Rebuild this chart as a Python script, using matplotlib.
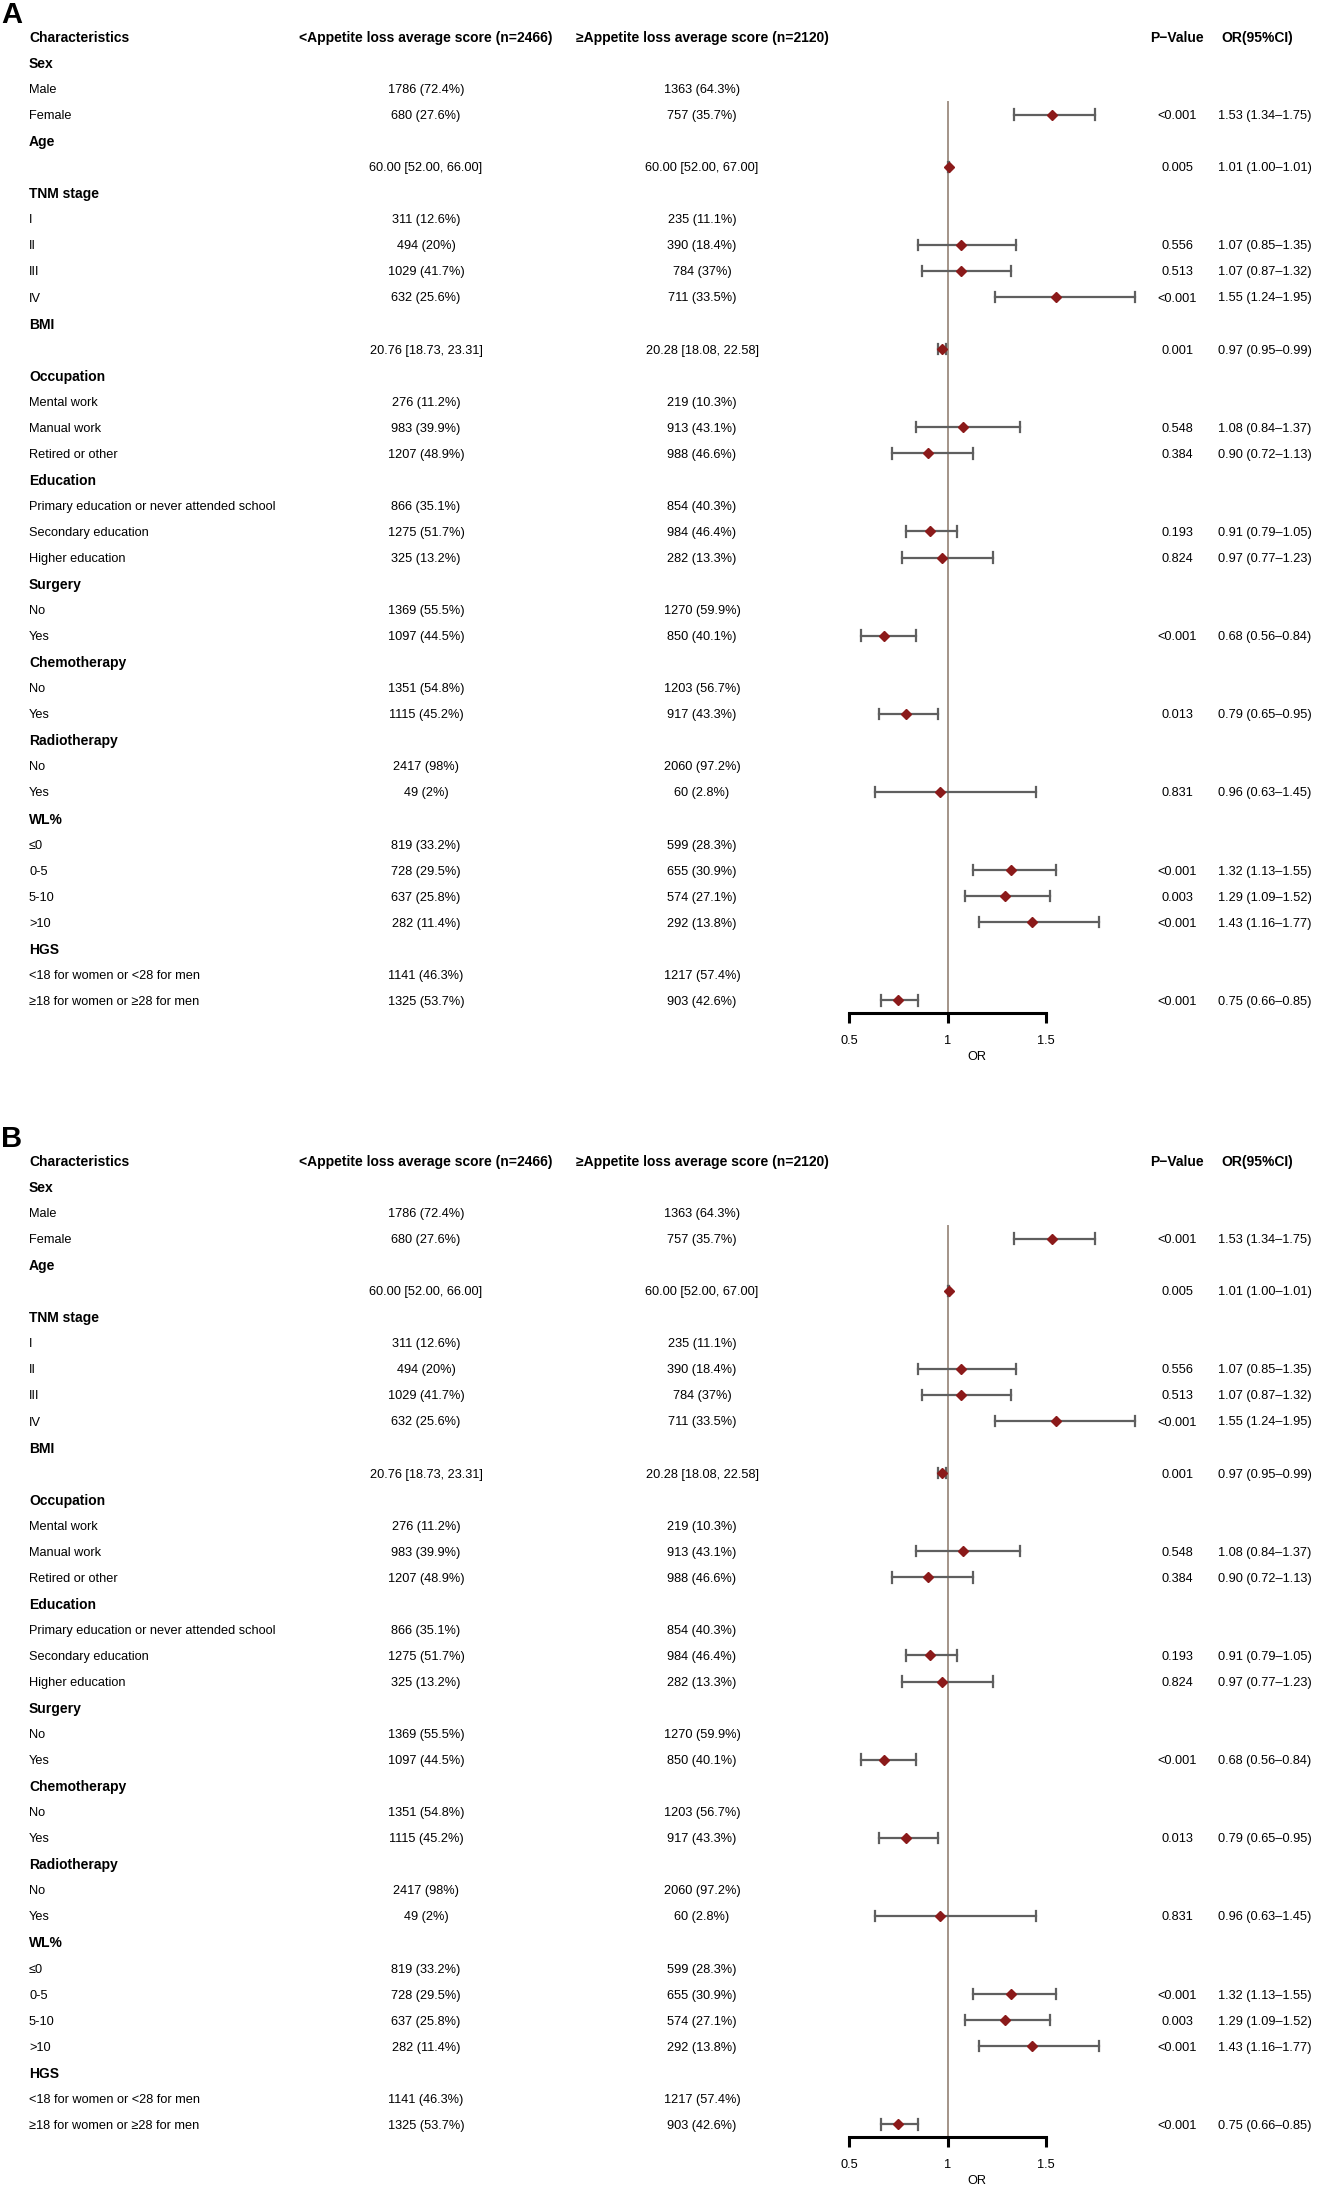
import matplotlib
matplotlib.use("Agg")
import matplotlib.pyplot as plt
import matplotlib.transforms as mtransforms

plt.rcParams['font.family'] = ['Liberation Sans', 'DejaVu Sans']

# ---- data ----
header = ["Characteristics", "<Appetite loss average score (n=2466)",
          "\u2265Appetite loss average score (n=2120)", "P\u2212Value", "OR(95%CI)"]

labels = ["Sex", "Male", "Female", "Age", "", "TNM stage", "I", "II", "III", "IV",
          "BMI", "", "Occupation", "Mental work", "Manual work", "Retired or other",
          "Education", "Primary education or never attended school", "Secondary education",
          "Higher education", "Surgery", "No", "Yes", "Chemotherapy", "No", "Yes",
          "Radiotherapy", "No", "Yes", "WL%", "\u22640", "0-5", "5-10", ">10",
          "HGS", "<18 for women or <28 for men", "\u226518 for women or \u226528 for men"]
is_group = [True, False, False, True, False, True, False, False, False, False,
            True, False, True, False, False, False, True, False, False, False,
            True, False, False, True, False, False, True, False, False, True,
            False, False, False, False, True, False, False]

low_grp = ["", "1786 (72.4%)", "680 (27.6%)", "", "60.00 [52.00, 66.00]", "",
           "311 (12.6%)", "494 (20%)", "1029 (41.7%)", "632 (25.6%)", "",
           "20.76 [18.73, 23.31]", "", "276 (11.2%)", "983 (39.9%)", "1207 (48.9%)",
           "", "866 (35.1%)", "1275 (51.7%)", "325 (13.2%)", "", "1369 (55.5%)",
           "1097 (44.5%)", "", "1351 (54.8%)", "1115 (45.2%)", "", "2417 (98%)",
           "49 (2%)", "", "819 (33.2%)", "728 (29.5%)", "637 (25.8%)", "282 (11.4%)",
           "", "1141 (46.3%)", "1325 (53.7%)"]
high_grp = ["", "1363 (64.3%)", "757 (35.7%)", "", "60.00 [52.00, 67.00]", "",
            "235 (11.1%)", "390 (18.4%)", "784 (37%)", "711 (33.5%)", "",
            "20.28 [18.08, 22.58]", "", "219 (10.3%)", "913 (43.1%)", "988 (46.6%)",
            "", "854 (40.3%)", "984 (46.4%)", "282 (13.3%)", "", "1270 (59.9%)",
            "850 (40.1%)", "", "1203 (56.7%)", "917 (43.3%)", "", "2060 (97.2%)",
            "60 (2.8%)", "", "599 (28.3%)", "655 (30.9%)", "574 (27.1%)", "292 (13.8%)",
            "", "1217 (57.4%)", "903 (42.6%)"]

# OR estimates (None = reference / no estimate)
or_est = [None, None, 1.53, None, 1.01, None, None, 1.07, 1.07, 1.55,
          None, 0.97, None, None, 1.08, 0.90, None, None, 0.91, 0.97,
          None, None, 0.68, None, None, 0.79, None, None, 0.96, None,
          None, 1.32, 1.29, 1.43, None, None, 0.75]
or_lo = [None, None, 1.34, None, 1.00, None, None, 0.85, 0.87, 1.24,
         None, 0.95, None, None, 0.84, 0.72, None, None, 0.79, 0.77,
         None, None, 0.56, None, None, 0.65, None, None, 0.63, None,
         None, 1.13, 1.09, 1.16, None, None, 0.66]
or_hi = [None, None, 1.75, None, 1.01, None, None, 1.35, 1.32, 1.95,
         None, 0.99, None, None, 1.37, 1.13, None, None, 1.05, 1.23,
         None, None, 0.84, None, None, 0.95, None, None, 1.45, None,
         None, 1.55, 1.52, 1.77, None, None, 0.85]
pvals = ["", "", "<0.001", "", "0.005", "", "", "0.556", "0.513", "<0.001",
         "", "0.001", "", "", "0.548", "0.384", "", "", "0.193", "0.824",
         "", "", "<0.001", "", "", "0.013", "", "", "0.831", "",
         "", "<0.001", "0.003", "<0.001", "", "", "<0.001"]
ticks = [0.5, 1, 1.5]
panels = ["A", "B"]

# ---- layout (pixels in a 1321 x 2190 canvas) ----
W, H = 1321, 2190
fig = plt.figure(figsize=(W / 100, H / 100), dpi=100)

row_h = 26.05
panel_off = 1124
fs = 9.2      # body text
fsb = 10.0    # bold header / group text
x_char, x_low, x_high, x_p, x_orh, x_or = 29, 426, 702, 1177, 1257, 1265
or_px0, or_px_per = 849, 197   # OR=0.5 position, px per OR unit
xlim = (0.3, 2.0)
err_col = "#5f5f5f"
pt_col = "#8b1a1a"
ref_col = "#a39488"

for p, name in enumerate(panels):
    top = 36.5 + p * panel_off               # header row center
    n = len(labels)
    ybot_row = n + 0.47                      # axis line position (rows)
    left_px = or_px0 + (xlim[0] - 0.5) * or_px_per
    right_px = or_px0 + (xlim[1] - 0.5) * or_px_per
    bottom_px = top + ybot_row * row_h
    ax = fig.add_axes([left_px / W, 1 - bottom_px / H,
                       (right_px - left_px) / W, (bottom_px - top) / H])
    ax.set_xlim(*xlim)
    ax.set_ylim(ybot_row, 0)
    ax.patch.set_visible(False)
    for s in ["top", "right", "left"]:
        ax.spines[s].set_visible(False)
    ax.spines["bottom"].set_bounds(ticks[0], ticks[-1])
    ax.spines["bottom"].set_linewidth(2.2)
    ax.set_yticks([])
    ax.set_xticks(ticks)
    ax.set_xticklabels(["0.5", "1", "1.5"])
    ax.tick_params(axis="x", direction="out", length=7, width=2.2, labelsize=fs, pad=9)
    ax.set_xlabel("OR", fontsize=fs, labelpad=3)

    ax.plot([1, 1], [2.5, ybot_row], color=ref_col, lw=1.4, zorder=1)

    for i in range(n):
        r = i + 1
        if or_est[i] is None:
            continue
        ax.plot([or_lo[i], or_hi[i]], [r, r], color=err_col, lw=1.6, clip_on=False, zorder=2)
        for xe in (or_lo[i], or_hi[i]):
            ax.plot([xe, xe], [r - 0.2, r + 0.2], color=err_col, lw=1.6, clip_on=False, zorder=2)
        ax.plot(or_est[i], r, marker="D", ms=5.5, color=pt_col, mec=pt_col, zorder=3, clip_on=False)

    tr = mtransforms.blended_transform_factory(fig.transFigure, ax.transData)
    # header
    ax.text(x_char / W, 0, header[0], transform=tr, ha="left", va="center_baseline",
            fontsize=fsb, fontweight="bold")
    ax.text(x_low / W, 0, header[1], transform=tr, ha="center", va="center_baseline",
            fontsize=fsb, fontweight="bold")
    ax.text(x_high / W, 0, header[2], transform=tr, ha="center", va="center_baseline",
            fontsize=fsb, fontweight="bold")
    ax.text(x_p / W, 0, header[3], transform=tr, ha="center", va="center_baseline",
            fontsize=fsb, fontweight="bold")
    ax.text(x_orh / W, 0, header[4], transform=tr, ha="center", va="center_baseline",
            fontsize=fsb, fontweight="bold")

    for i in range(n):
        r = i + 1
        if is_group[i]:
            ax.text(x_char / W, r, labels[i], transform=tr, ha="left", va="center_baseline",
                    fontsize=fsb, fontweight="bold")
        else:
            ax.text(x_char / W, r, labels[i], transform=tr, ha="left", va="center_baseline",
                    fontsize=fs)
        if low_grp[i]:
            ax.text(x_low / W, r, low_grp[i], transform=tr, ha="center", va="center_baseline", fontsize=fs)
        if high_grp[i]:
            ax.text(x_high / W, r, high_grp[i], transform=tr, ha="center", va="center_baseline", fontsize=fs)
        if pvals[i]:
            ax.text(x_p / W, r, pvals[i], transform=tr, ha="center", va="center_baseline", fontsize=fs)
        if or_est[i] is not None:
            txt = "%.2f (%.2f\u2013%.2f)" % (or_est[i], or_lo[i], or_hi[i])
            ax.text(x_or / W, r, txt, transform=tr, ha="center", va="center_baseline", fontsize=fs)

    fig.text(1 / W, 1 - (15 + p * panel_off) / H, name, ha="left", va="center",
             fontsize=21, fontweight="bold")

fig.savefig("out.png", dpi=100)
